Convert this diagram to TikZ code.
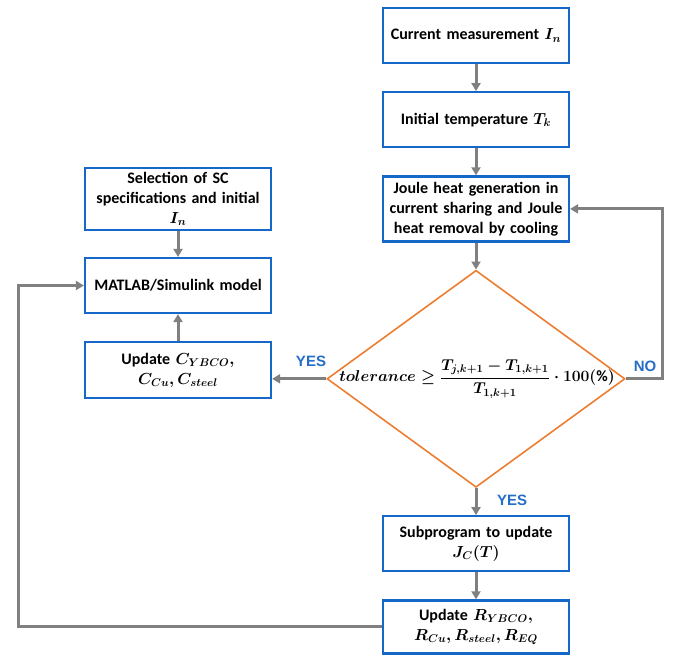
\RequirePackage{fix-cm}
\documentclass[tikz,border=0pt]{standalone}
\usepackage{amsmath,amssymb}
\usepackage{fontspec}
\setmainfont{Carlito}
\newfontfamily\lblfont{Liberation Sans}
\usetikzlibrary{shapes.geometric,arrows.meta,positioning}
\definecolor{boxblue}{RGB}{22,104,200}
\definecolor{decorange}{RGB}{237,125,49}
\definecolor{arrgray}{RGB}{128,128,128}
\definecolor{tagblue}{RGB}{36,110,200}

\begin{document}
\begin{tikzpicture}[x=1pt,y=-1pt,
  node distance=27pt,
  stepbox/.style={draw=boxblue,line width=2.2pt,fill=white,minimum width=186pt,minimum height=55pt,text width=180pt,align=center,inner sep=0pt,font=\fontsize{16}{20}\selectfont\bfseries\boldmath},
  dec/.style={diamond,draw=decorange,line width=1.6pt,minimum width=298pt,minimum height=217pt,inner sep=0pt},
  arr/.style={-{Triangle[length=8pt,width=9pt]},line width=3pt,arrgray},
  tag/.style={font=\fontsize{15}{17}\selectfont\lblfont\bfseries,text=tagblue}]
\useasboundingbox (0,0) rectangle (679,657);
\node[stepbox] (meas) at (476,35.5) {Current measurement $I_n$};
\node[stepbox,below=of meas] (init) {Initial temperature $T_k$};
\node[stepbox,minimum height=65pt,below=of init] (joule) {Joule heat generation in\\ current sharing and Joule\\ heat removal by cooling};
\node[dec,below=of joule] (chk) {};
\node[font=\fontsize{15.7}{19}\selectfont\boldmath,inner sep=0pt] (tol) at ([xshift=1pt]chk.center) {$\displaystyle tolerance \geq \frac{T_{j,k+1}-T_{1,k+1}}{T_{1,k+1}}\cdot 100(\%)$};
\node[stepbox,below=of chk] (jc) {Subprogram to update\\ $J_C(T)$};
\node[stepbox,minimum height=53pt,below=of jc] (updR) {Update $R_{YBCO},$\\ $R_{Cu},R_{steel},R_{EQ}$};
\node[stepbox] (model) at (178,285.5) {MATLAB/Simulink model};
\node[stepbox,minimum height=62pt,above=26pt of model] (spec) {Selection of SC\\ specifications and initial\\ $I_n$};
\node[stepbox,minimum height=56pt,below=of model] (updC) {Update $C_{YBCO},$\\ $C_{Cu},C_{steel}$};
\foreach \a/\b in {meas/init,init/joule,joule/chk,chk/jc,jc/updR,spec/model,updC/model} \draw[arr] (\a)--(\b);
\draw[arr] (chk.west) -- (updC.east |- chk.west);
\draw[arr] (chk.east) -- ++(37,0) |- (joule.east);
\coordinate (back) at (18,627);
\draw[arr] (updR.west) -- (back |- updR.west) |- (model.west);
\node[tag] (yesL) at (311,361) {YES};
\node[tag] (no) at (645,366) {NO};
\node[tag] (yesB) at (512,500) {YES};
\end{tikzpicture}
\end{document}
